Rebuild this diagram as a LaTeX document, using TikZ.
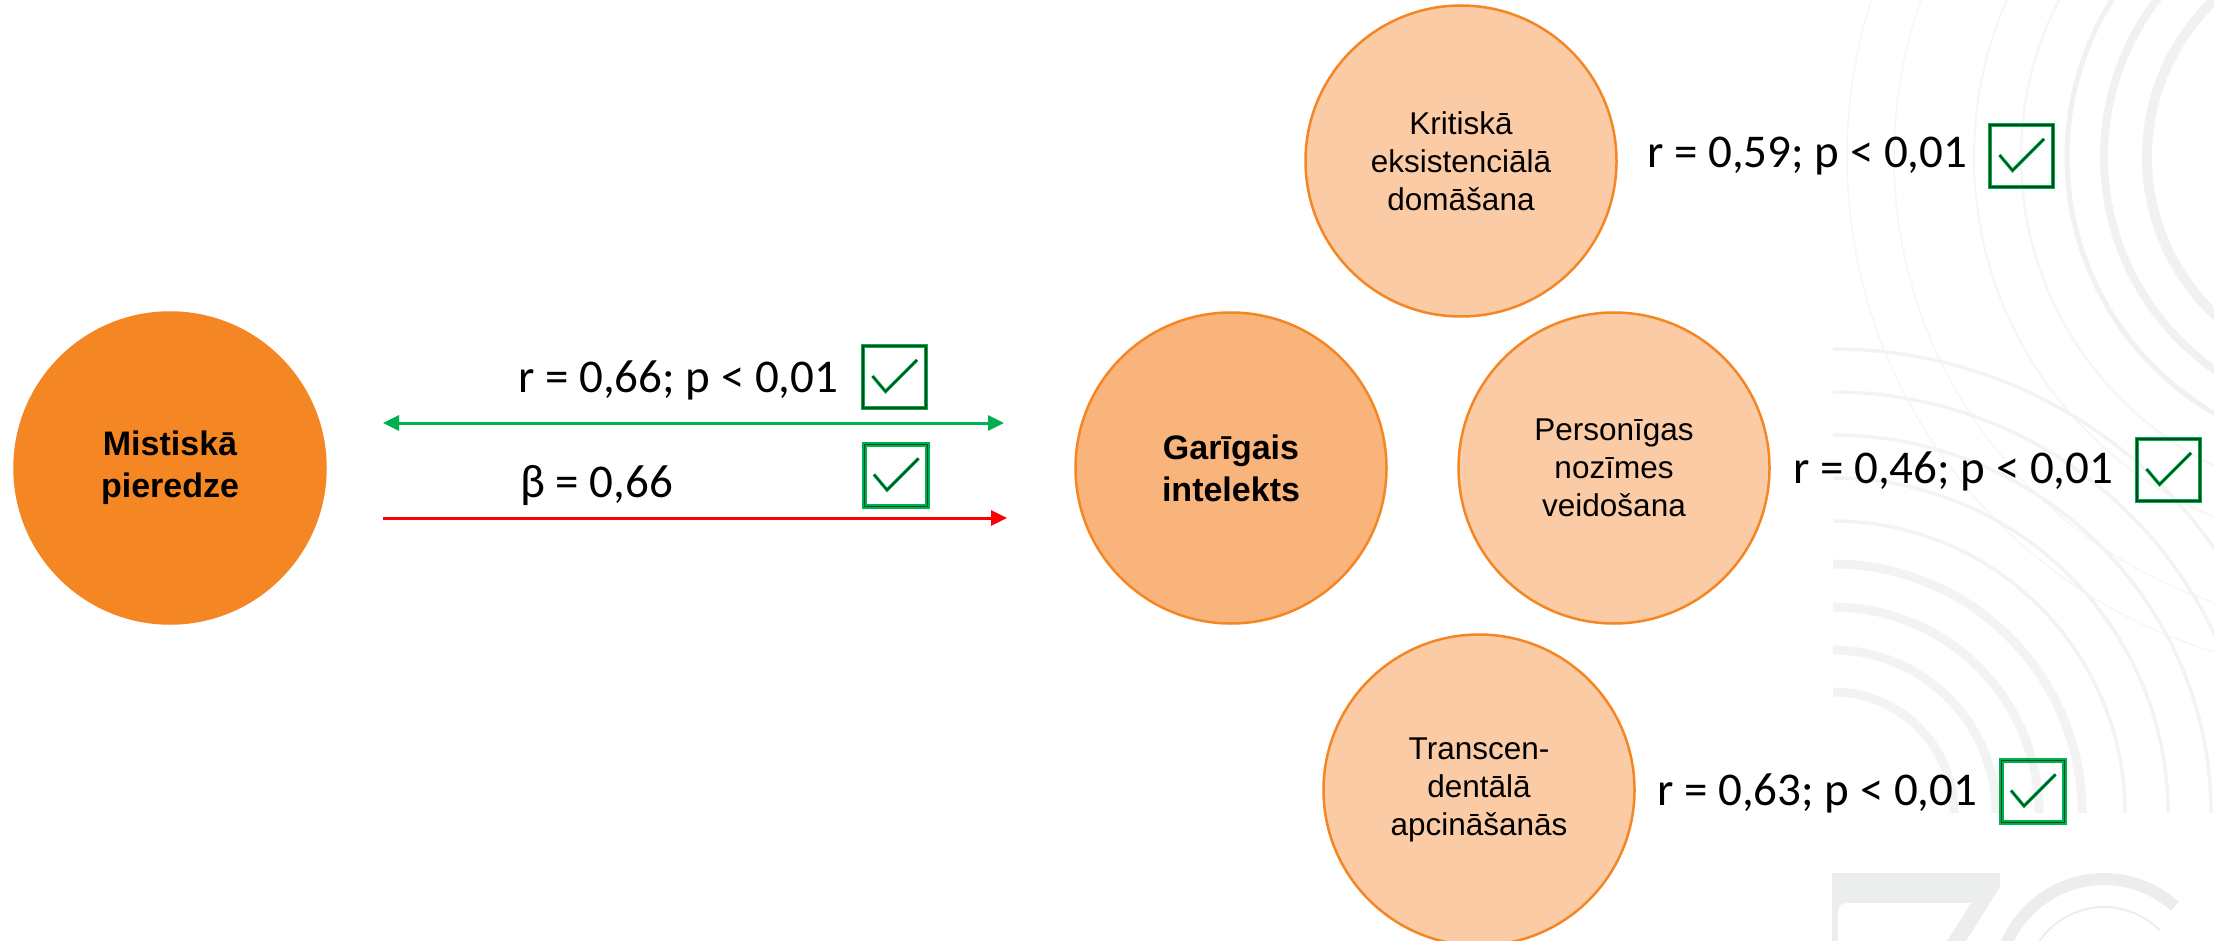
\documentclass[tikz,border=0pt]{standalone}
\usepackage{fontspec}
\setmainfont{Liberation Sans}
\newfontfamily\calfont{Carlito}
\usetikzlibrary{arrows.meta,calc}
\definecolor{corange}{RGB}{244,134,36}
\definecolor{cmid}{RGB}{248,180,122}
\definecolor{clight}{RGB}{250,203,165}
\definecolor{cgreen}{RGB}{0,176,80}
\definecolor{cdark}{RGB}{0,80,30}
\definecolor{cred}{RGB}{255,0,0}
\definecolor{wmthick}{RGB}{241,241,241}
\definecolor{wmfaint}{RGB}{246,246,246}
\definecolor{wmthin}{RGB}{243,243,243}
\definecolor{wmlogo}{RGB}{236,237,237}
\begin{document}
\begin{tikzpicture}[x=1pt,y=-1pt,
  bigc/.style={circle, minimum size=311pt, inner sep=0pt, align=center, line width=2.5pt, draw=corange},
  subtxt/.style={font=\fontsize{31.5}{38}\selectfont},
  maintxt/.style={font=\fontsize{34}{42}\selectfont\bfseries},
  lbl/.style={font=\calfont\fontsize{47}{56}\selectfont, anchor=base west, inner sep=0pt},
  chkbox/.style={rectangle, draw=cgreen, double=cdark, line width=1.4pt, double distance=1.6pt,
    minimum width=63pt, minimum height=62pt, inner sep=0pt,
    path picture={\draw[draw=cgreen, double=cdark, line width=0.9pt, double distance=1.5pt]
      ($(path picture bounding box.center)+(-22,-1)$) --
      ($(path picture bounding box.center)+(-9,14.5)$) --
      ($(path picture bounding box.center)+(22.5,-17)$);}},
  garrow/.style={draw=cgreen, line width=3pt, {Triangle[length=16pt,width=15pt]}-{Triangle[length=16pt,width=15pt]}},
  rarrow/.style={draw=cred, line width=3pt, -{Triangle[length=16pt,width=15pt]}}
]
\useasboundingbox (0,0) rectangle (2214,941);
% watermark
\begin{scope}
  \clip (0,0) rectangle (2214,941);
  \foreach \r/\w in {217/10,260/8,297/5}
    \draw[draw=wmthick, line width=\w pt] (2364,157) circle[radius=\r];
  \foreach \r/\w in {343/2.5,390/2,470/1.5,517/1.5}
    \draw[draw=wmfaint, line width=\w pt] (2364,157) circle[radius=\r];
  \foreach \r/\w in {121/9,163/9,206/9,249/9,292/3.5,335/3.5,378/3.5,421/3.5,464/3.5}
    \draw[draw=wmthin, line width=\w pt] (1833,813-\r) arc[start angle=-90,end angle=0,radius=\r];
  \fill[wmlogo] (1832,873) -- (2000,873) -- (2000,887) -- (1966,941) -- (1832,941) -- cycle;
  \fill[white] (1838,941) -- (1838,921) .. controls (1838,903) .. (1858,903) -- (1971,903) -- (1947,941) -- cycle;
  \draw[draw=wmlogo, line width=12pt] (2104,985) ++(-157:106) arc[start angle=-157,end angle=-48,radius=106];
  \draw[draw=wmlogo, line width=2pt] (2104,985) ++(-149:78) arc[start angle=-149,end angle=-44,radius=78];
\end{scope}
% circles
\node[bigc, fill=corange, maintxt] (mist) at (170,468) {Mistiskā\\pieredze};
\node[bigc, fill=cmid, maintxt] (gar) at (1231,468) {Garīgais\\intelekts};
\node[bigc, fill=clight, subtxt] (krit) at (1461,161) {Kritiskā\\eksistenciālā\\domāšana};
\node[bigc, fill=clight, subtxt] (pers) at (1614,468) {Personīgas\\nozīmes\\veidošana};
\node[bigc, fill=clight, subtxt] (trans) at (1479,790) {Transcen-\\dentālā\\apcināšanās};
% arrows
\coordinate (ga) at (383,423); \coordinate (gb) at (1004,423);
\coordinate (ra) at (383,518); \coordinate (rb) at (1007,518);
\draw[garrow] (ga) -- (gb);
\draw[rarrow] (ra) -- (rb);
% labels
\node[lbl] (l1) at (518,392) {r = 0,66; p < 0,01};
\node[lbl] (l2) at (520,497) {β = 0,66};
\node[lbl] (l3) at (1647,168) {r = 0,59; p < 0,01};
\node[lbl] (l4) at (1793,483) {r = 0,46; p < 0,01};
\node[lbl] (l5) at (1657,805) {r = 0,63; p < 0,01};
% check boxes
\node[chkbox] (b1) at (894.5,377) {};
\node[chkbox] (b2) at (896,475.5) {};
\node[chkbox] (b3) at (2021.5,156) {};
\node[chkbox] (b4) at (2168.5,470) {};
\node[chkbox] (b5) at (2033,791.5) {};
\end{tikzpicture}
\end{document}
